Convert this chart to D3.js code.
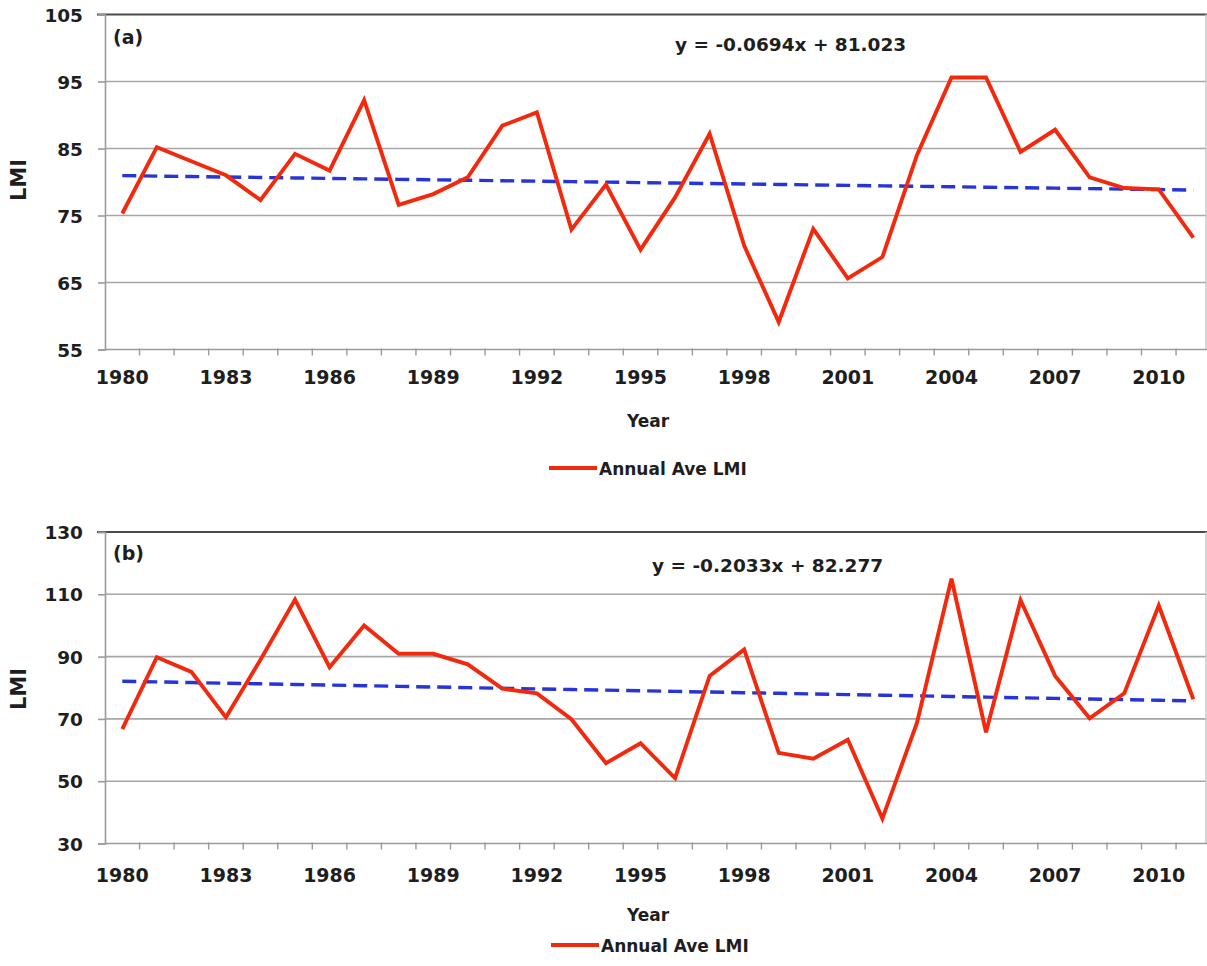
<!DOCTYPE html>
<html>
<head>
<meta charset="utf-8">
<script src="https://cdn.jsdelivr.net/npm/d3@7/dist/d3.min.js"></script>
<style>
  html, body { margin: 0; padding: 0; background: #fff; }
  svg { display: block; font-family: "DejaVu Sans", Verdana, sans-serif; font-weight: bold; }
</style>
</head>
<body>
<svg id="chart" width="1207" height="966"></svg>
<script>
// Years on the category axis
const years = [1980, 1981, 1982, 1983, 1984, 1985, 1986, 1987, 1988, 1989,
               1990, 1991, 1992, 1993, 1994, 1995, 1996, 1997, 1998, 1999,
               2000, 2001, 2002, 2003, 2004, 2005, 2006, 2007, 2008, 2009,
               2010, 2011];
const yearLabels = [1980, 1983, 1986, 1989, 1992, 1995, 1998, 2001, 2004, 2007, 2010];

// Panel (a): annual average LMI
const lmiA = [75.3, 85.2, 83.1, 81.0, 77.3, 84.2, 81.7, 92.2, 76.6, 78.2,
              80.7, 88.4, 90.4, 72.9, 79.6, 69.9, 77.7, 87.2, 70.5, 59.1,
              73.0, 65.6, 68.8, 84.0, 95.6, 95.6, 84.5, 87.8, 80.7, 79.1,
              78.9, 71.7];
const ticksA = [55, 65, 75, 85, 95, 105];
const trendA = { slope: -0.0694, intercept: 81.023 };

// Panel (b): annual average LMI
const lmiB = [66.7, 89.8, 85.1, 70.5, 89.0, 108.3, 86.6, 100.0, 90.9, 90.9,
              87.5, 79.7, 78.2, 69.9, 55.8, 62.2, 51.0, 83.8, 92.3, 59.1,
              57.2, 63.3, 38.0, 68.7, 115.0, 65.7, 108.1, 83.8, 70.2, 78.2,
              106.4, 76.3];
const ticksB = [30, 50, 70, 90, 110, 130];
const trendB = { slope: -0.2033, intercept: 82.277 };

const svg = d3.select("#chart");

const RED = "#f2290c";
const BLUE = "#2634d8";
const GRID = "#a6a6a6";

function drawPanel(p) {
  const g = svg.append("g");
  const x = d3.scaleBand().domain(years).range([p.left, p.left + years.length * 34.55]);
  const y = d3.scaleLinear().domain([p.ticks[0], p.ticks[p.ticks.length - 1]]).range([p.bottom, p.top]);
  const cx = d => x(d) + x.bandwidth() / 2;

  // horizontal gridlines
  g.append("g").selectAll("line").data(p.ticks.slice(1, -1)).join("line")
    .attr("x1", p.left).attr("x2", 1207)
    .attr("y1", d => y(d)).attr("y2", d => y(d))
    .attr("stroke", GRID).attr("stroke-width", 1.6);

  // top border
  g.append("line").attr("x1", p.left - 8).attr("x2", 1207)
    .attr("y1", y(p.ticks[p.ticks.length - 1])).attr("y2", y(p.ticks[p.ticks.length - 1]))
    .attr("stroke", "#4a4a4a").attr("stroke-width", 2.2);
  // right border
  g.append("line").attr("x1", 1206).attr("x2", 1206)
    .attr("y1", p.top).attr("y2", p.bottom)
    .attr("stroke", "#c8c8c8").attr("stroke-width", 1.5);

  // y axis
  const yAxis = d3.axisLeft(y).tickValues(p.ticks).tickSize(7).tickPadding(15);
  const ya = g.append("g").attr("transform", `translate(${p.left},0)`).call(yAxis);
  ya.select(".domain").attr("stroke", "#9a9a9a").attr("stroke-width", 1.6);
  ya.selectAll(".tick line").attr("stroke", "#9a9a9a").attr("stroke-width", 1.6);
  ya.selectAll(".tick text").attr("font-size", 18.5).attr("font-family", "DejaVu Sans")
    .attr("font-weight", "bold").attr("fill", "#1e1e1e").attr("dy", "0.36em");

  // x axis: baseline and boundary ticks
  g.append("line").attr("x1", p.left).attr("x2", 1207)
    .attr("y1", p.bottom).attr("y2", p.bottom)
    .attr("stroke", "#9a9a9a").attr("stroke-width", 1.6);
  g.append("g").selectAll("line").data(years.slice(1)).join("line")
    .attr("x1", d => x(d)).attr("x2", d => x(d))
    .attr("y1", p.bottom - 1).attr("y2", p.bottom + 6)
    .attr("stroke", "#9a9a9a").attr("stroke-width", 1.4);
  const xAxis = d3.axisBottom(x).tickValues(yearLabels).tickSize(0).tickPadding(p.xPad);
  const xa = g.append("g").attr("transform", `translate(0,${p.bottom})`).call(xAxis);
  xa.select(".domain").remove();
  xa.selectAll(".tick text").attr("font-size", 19).attr("font-family", "DejaVu Sans")
    .attr("font-weight", "bold").attr("fill", "#1e1e1e");

  // axis titles
  g.append("text").attr("transform", `translate(${p.lmiX},${p.lmiY}) rotate(-90)`)
    .attr("text-anchor", "middle").attr("dominant-baseline", "central")
    .attr("font-size", 21).attr("fill", "#1e1e1e").text("LMI");
  g.append("text").attr("x", 648).attr("y", p.yearY)
    .attr("text-anchor", "middle").attr("dominant-baseline", "central")
    .attr("font-size", 17).attr("fill", "#1e1e1e").text("Year");

  // trend line
  const trendLine = d3.line().x(d => cx(d)).y((d, i) => y(p.trend.slope * (i + 1) + p.trend.intercept));
  g.append("path").datum(years).attr("d", trendLine)
    .attr("fill", "none").attr("stroke", BLUE).attr("stroke-width", 3.4)
    .attr("stroke-dasharray", "14,7");

  // data series
  const line = d3.line().x((d, i) => cx(years[i])).y(d => y(d));
  g.append("path").datum(p.values).attr("d", line)
    .attr("fill", "none").attr("stroke", RED).attr("stroke-width", 3.9)
    .attr("stroke-linejoin", "miter");

  // panel tag and equation
  g.append("text").attr("x", 113).attr("y", p.tagY).attr("dominant-baseline", "central")
    .attr("font-size", 19).attr("fill", "#1e1e1e").text(p.tag);
  g.append("text").attr("x", p.eqX).attr("y", p.eqY).attr("dominant-baseline", "central")
    .attr("font-size", 18.5).attr("fill", "#1e1e1e")
    .text(`y = ${p.trend.slope}x + ${p.trend.intercept.toFixed(3)}`);

  // legend
  g.append("line").attr("x1", p.legX).attr("x2", p.legX + 48)
    .attr("y1", p.legY - 1).attr("y2", p.legY - 1)
    .attr("stroke", RED).attr("stroke-width", 3.9);
  g.append("text").attr("x", p.legX + 50).attr("y", p.legY).attr("dominant-baseline", "central")
    .attr("font-size", 17).attr("fill", "#1e1e1e").text("Annual Ave LMI");
}

drawPanel({
  values: lmiA, ticks: ticksA, trend: trendA,
  left: 105, top: 14.5, bottom: 349.5, xPad: 21,
  lmiX: 19, lmiY: 180, yearY: 421, tag: "(a)", tagY: 37,
  eqX: 675, eqY: 44, legX: 549, legY: 469
});

drawPanel({
  values: lmiB, ticks: ticksB, trend: trendB,
  left: 105, top: 532, bottom: 843.5, xPad: 25,
  lmiX: 19, lmiY: 689, yearY: 915, tag: "(b)", tagY: 553,
  eqX: 652, eqY: 565, legX: 551, legY: 946
});
</script>
</body>
</html>
